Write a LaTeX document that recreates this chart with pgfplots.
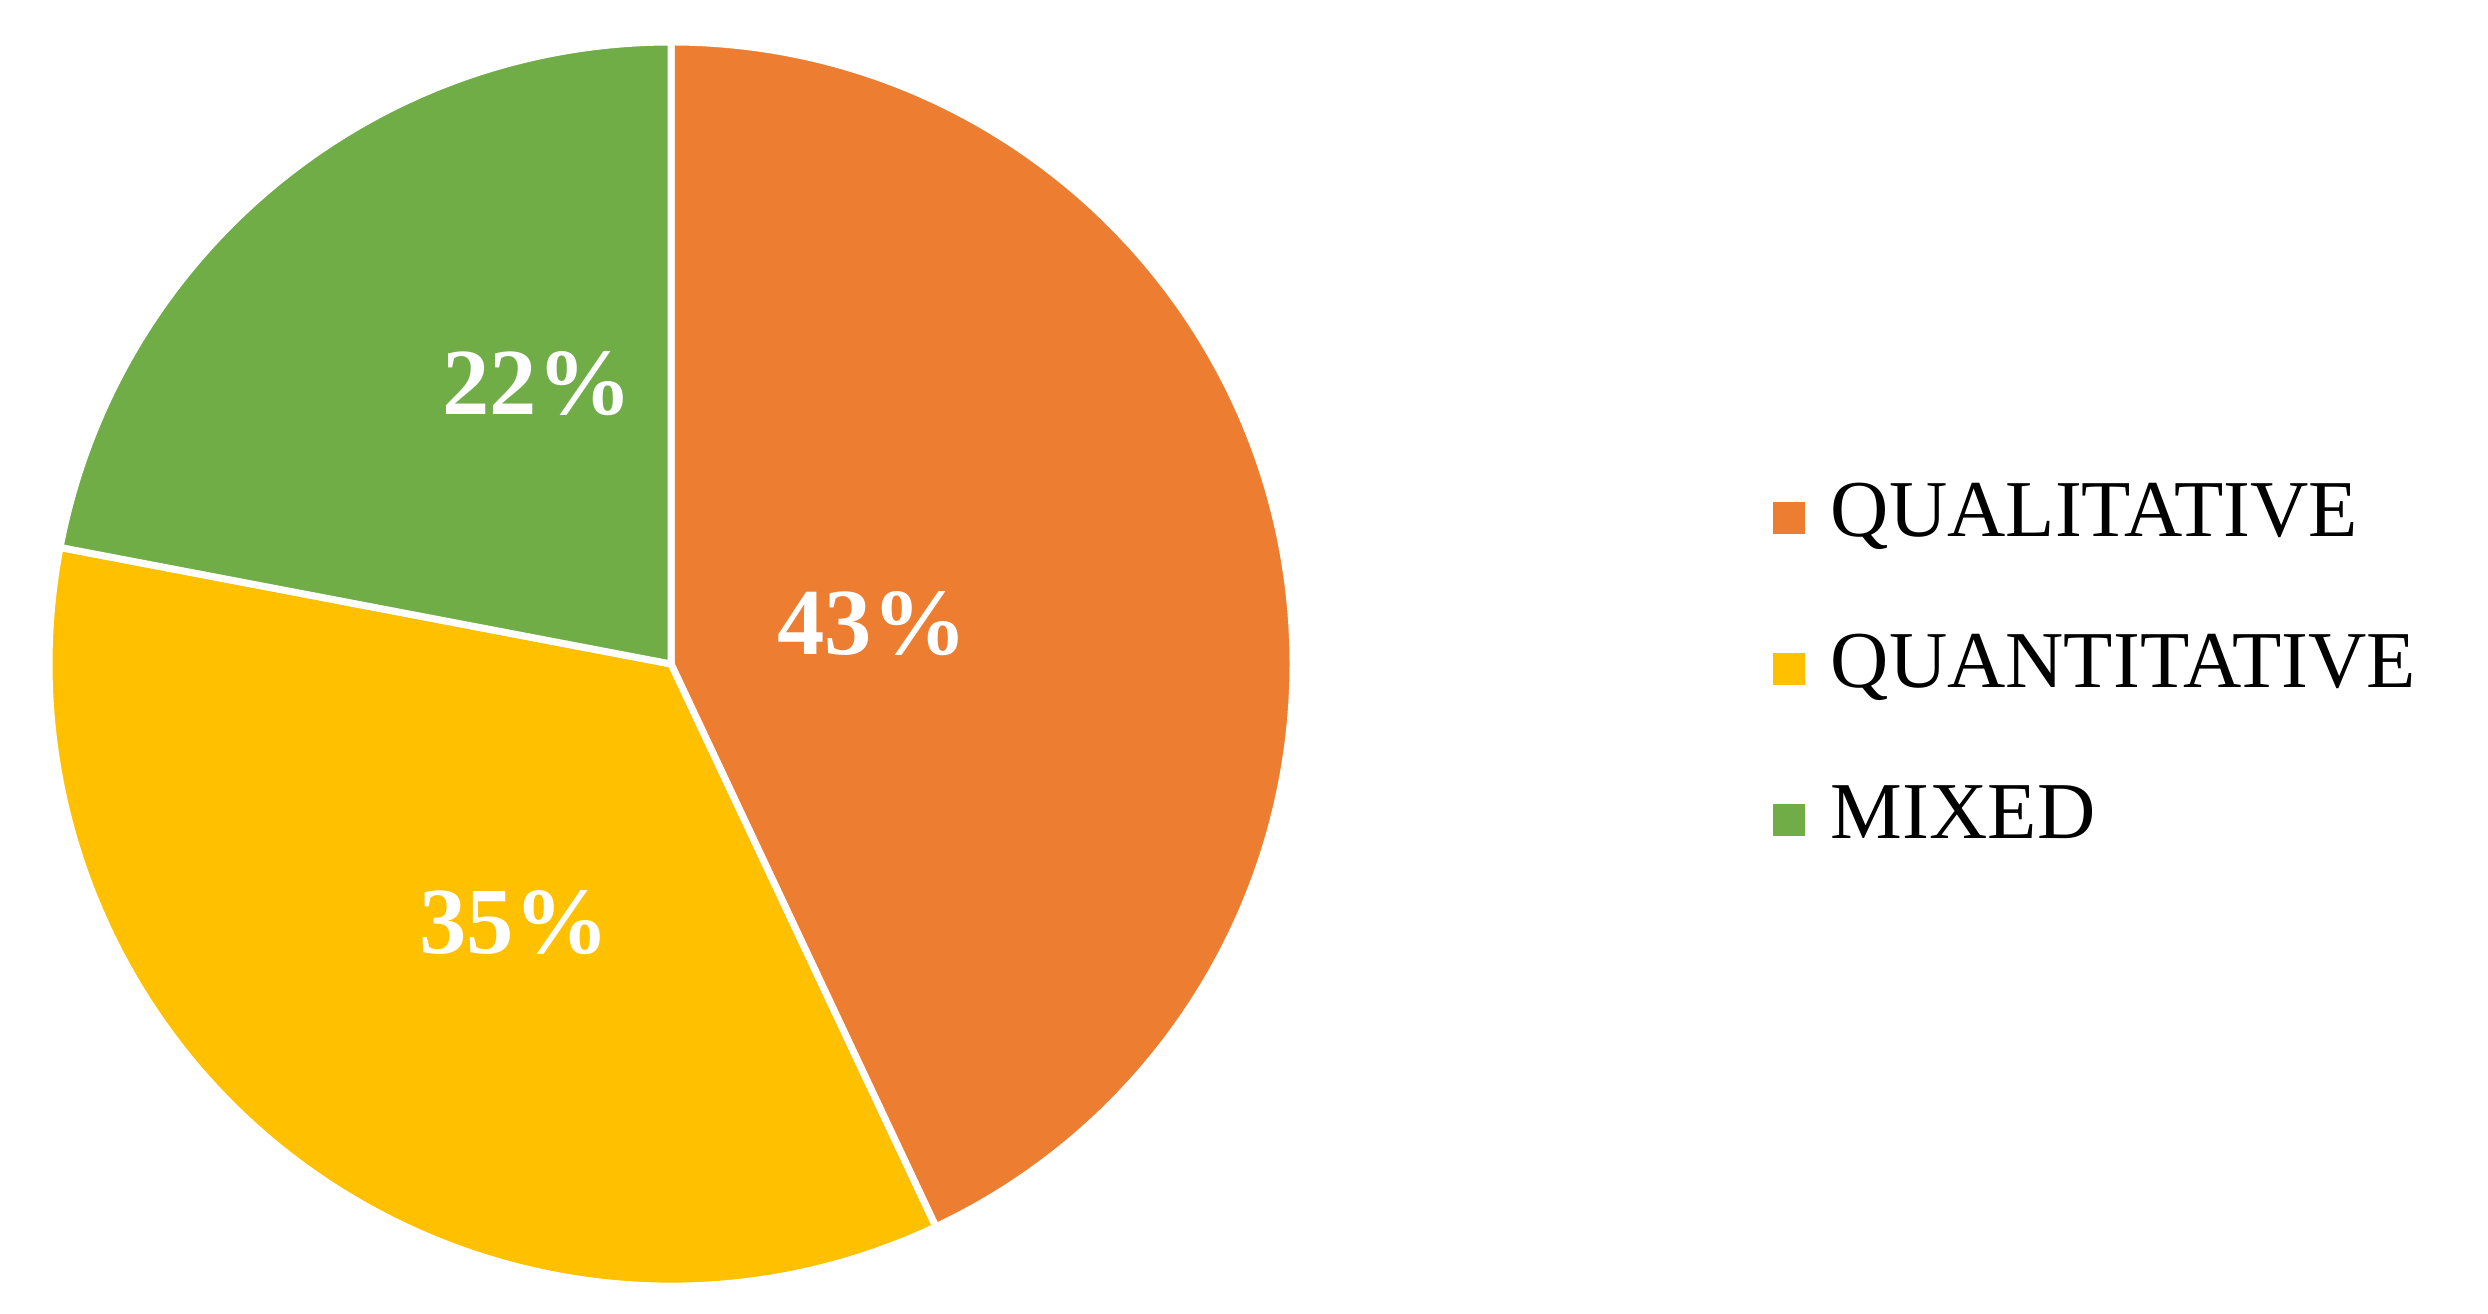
\documentclass[border=0pt]{standalone}
\usepackage{fontspec}
\setmainfont{Liberation Serif}
\usepackage{pgfplots}
\usepackage{pgfplotstable}
\pgfplotsset{compat=1.18}
\definecolor{qualC}{HTML}{ED7D31}
\definecolor{quanC}{HTML}{FFC000}
\definecolor{mixC}{HTML}{70AD47}
\pgfplotstableread{
label value
QUALITATIVE 43
QUANTITATIVE 35
MIXED 22
}\piedata
\begin{document}
\begin{tikzpicture}
\pgfplotstablegetelem{0}{value}\of\piedata \let\vA\pgfplotsretval
\pgfplotstablegetelem{1}{value}\of\piedata \let\vB\pgfplotsretval
\pgfplotstablegetelem{2}{value}\of\piedata \let\vC\pgfplotsretval
\pgfmathsetmacro{\aA}{90}
\pgfmathsetmacro{\aB}{\aA-3.6*\vA}
\pgfmathsetmacro{\aC}{\aB-3.6*\vB}
\pgfmathsetmacro{\aD}{\aC-3.6*\vC}
\begin{axis}[
  width=497.6bp, height=262.8bp, scale only axis,
  xmin=0, xmax=2488, ymin=0, ymax=1314,
  hide axis, clip=false,
  legend style={draw=none, fill=none, at={(axis cs:1757,645)}, anchor=west,
    font=\fontsize{16.2}{19}\selectfont,
    nodes={text height=11bp, text depth=3.7bp, inner sep=0pt},
    row sep=15.5bp, column sep=5.2bp},
  legend cell align=left,
  legend image code/.code={\fill[#1] (0bp,-3bp) rectangle (6bp,3bp);},
]
\fill[qualC, draw=white, line width=1.4bp] (axis cs:671,650) -- ++(\aA:124.4bp) arc[start angle=\aA, end angle=\aB, radius=124.4bp] -- cycle;
\fill[quanC, draw=white, line width=1.4bp] (axis cs:671,650) -- ++(\aB:124.4bp) arc[start angle=\aB, end angle=\aC, radius=124.4bp] -- cycle;
\fill[mixC, draw=white, line width=1.4bp] (axis cs:671,650) -- ++(\aC:124.4bp) arc[start angle=\aC, end angle=\aD, radius=124.4bp] -- cycle;
\node[text=white, font=\fontsize{19}{22}\selectfont\bfseries] at (axis cs:872,690) {\vA\%};
\node[text=white, font=\fontsize{19}{22}\selectfont\bfseries] at (axis cs:514,391) {\vB\%};
\node[text=white, font=\fontsize{19}{22}\selectfont\bfseries] at (axis cs:537,930) {\vC\%};
\addlegendimage{qualC}
\addlegendentry{QUALITATIVE}
\addlegendimage{quanC}
\addlegendentry{QUANTITATIVE}
\addlegendimage{mixC}
\addlegendentry{MIXED}
\end{axis}
\pgfresetboundingbox
\path[use as bounding box] (current axis.south west) rectangle (current axis.north east);
\end{tikzpicture}
\end{document}
